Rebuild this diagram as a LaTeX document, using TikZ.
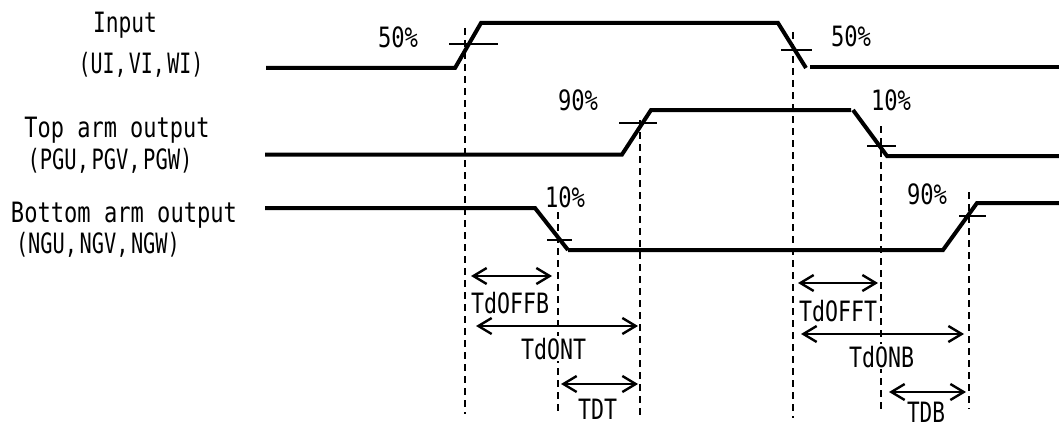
\documentclass[tikz,border=0pt]{standalone}
\usepackage{fontspec}
\usepackage{graphicx}
\usetikzlibrary{arrows.meta}
\newfontfamily\gothicface{DejaVu Sans Mono}
\newcommand{\fitlab}[2]{\resizebox{#1\dimexpr0.75pt\relax}{\height}{\gothicface\fontsize{21}{22}\selectfont #2}}
\newcommand{\fitlist}[2]{\resizebox{#1\dimexpr0.75pt\relax}{\height}{\gothicface\fontsize{21}{22}\selectfont\spaceskip=0.12em\relax #2}}
\tikzset{
  signal/.style={line width=3pt,line join=miter},
  tick/.style={line width=1.1pt},
  guide/.style={line width=1.3pt,dash pattern=on 5pt off 4pt},
  span/.style={line width=1.8pt,{Straight Barb[length=10pt,width=12pt,line width=1.8pt]}-{Straight Barb[length=10pt,width=12pt,line width=1.8pt]}},
  lab/.style={inner sep=0pt,outer sep=0pt,anchor=base,text=black},
  cutlab/.style={lab,fill=white,inner ysep=1pt},
}
\begin{document}
\begin{tikzpicture}[x=0.75pt,y=-0.75pt]
\useasboundingbox (0,0) rectangle (1059,428);
% signals
\coordinate (a0) at (266,68); \coordinate (a1) at (455,68); \coordinate (a2) at (481,23);
\coordinate (a3) at (778,23); \coordinate (a4) at (806,68); \coordinate (a5) at (810,67); \coordinate (a6) at (1059,67);
\draw[signal] (a0) -- (a1) -- (a2) -- (a3) -- (a4);
\draw[signal] (a5) -- (a6);
\coordinate (b0) at (265,154.5); \coordinate (b1) at (622,154.5); \coordinate (b2) at (651,110);
\coordinate (b3) at (851,110); \coordinate (b4) at (853,110); \coordinate (b5) at (887,156); \coordinate (b6) at (1059,156);
\draw[signal] (b0) -- (b1) -- (b2) -- (b3);
\draw[signal] (b4) -- (b5) -- (b6);
\coordinate (c0) at (265,208); \coordinate (c1) at (535,208); \coordinate (c2) at (568,250);
\coordinate (c3) at (943,250); \coordinate (c4) at (977,203); \coordinate (c5) at (1059,203);
\draw[signal] (c0) -- (c1) -- (c2);
\draw[signal] (c2) -- (c3) -- (c4) -- (c5);
% level ticks
\coordinate (t1a) at (449,44); \coordinate (t1b) at (498,44); \draw[tick] (t1a) -- (t1b);
\coordinate (t2a) at (781,50); \coordinate (t2b) at (812,50); \draw[tick] (t2a) -- (t2b);
\coordinate (t3a) at (619,123); \coordinate (t3b) at (657,123); \draw[tick] (t3a) -- (t3b);
\coordinate (t4a) at (867,146); \coordinate (t4b) at (896,146); \draw[tick] (t4a) -- (t4b);
\coordinate (t5a) at (547,240); \coordinate (t5b) at (572,240); \draw[tick] (t5a) -- (t5b);
\coordinate (t6a) at (959,216); \coordinate (t6b) at (986,216); \draw[tick] (t6a) -- (t6b);
% guides
\coordinate (g1a) at (465,28);  \coordinate (g1b) at (465,414); \draw[guide] (g1a) -- (g1b);
\coordinate (g2a) at (558,212); \coordinate (g2b) at (558,414); \draw[guide] (g2a) -- (g2b);
\coordinate (g3a) at (640,120); \coordinate (g3b) at (640,416); \draw[guide] (g3a) -- (g3b);
\coordinate (g4a) at (793,32);  \coordinate (g4b) at (793,418); \draw[guide] (g4a) -- (g4b);
\coordinate (g5a) at (881,126); \coordinate (g5b) at (881,413); \draw[guide] (g5a) -- (g5b);
\coordinate (g6a) at (969,192); \coordinate (g6b) at (969,409); \draw[guide] (g6a) -- (g6b);
% spans
\coordinate (s1a) at (471,276); \coordinate (s1b) at (552,276); \draw[span] (s1a) -- (s1b);
\coordinate (s2a) at (476,326); \coordinate (s2b) at (638,326); \draw[span] (s2a) -- (s2b);
\coordinate (s3a) at (561,384); \coordinate (s3b) at (638,384); \draw[span] (s3a) -- (s3b);
\coordinate (s4a) at (798,283); \coordinate (s4b) at (878,283); \draw[span] (s4a) -- (s4b);
\coordinate (s5a) at (801,334); \coordinate (s5b) at (964,334); \draw[span] (s5a) -- (s5b);
\coordinate (s6a) at (889,392); \coordinate (s6b) at (966,392); \draw[span] (s6a) -- (s6b);
% signal names
\node[lab] (n1) at (125,33) {\fitlab{64}{Input}};
\node[lab] (n2) at (141,74) {\fitlist{125}{(UI, VI, WI)}};
\node[lab] (n3) at (117,137) {\fitlab{185}{Top arm output}};
\node[lab] (n4) at (110,169) {\fitlist{165}{(PGU, PGV, PGW)}};
\node[lab] (n5) at (124,222) {\fitlab{226}{Bottom arm output}};
\node[lab] (n6) at (98,253) {\fitlist{164}{(NGU, NGV, NGW)}};
% percentages
\node[lab] (p1) at (398,48) {\fitlab{40}{50\%}};
\node[lab] (p2) at (851,46) {\fitlab{40}{50\%}};
\node[lab] (p3) at (578,110) {\fitlab{40}{90\%}};
\node[lab] (p4) at (891,110) {\fitlab{40}{10\%}};
\node[lab] (p5) at (565,207) {\fitlab{40}{10\%}};
\node[lab] (p6) at (927,204) {\fitlab{40}{90\%}};
% timing names
\node[lab] (d1) at (510,313) {\fitlab{78}{TdOFFB}};
\node[cutlab] (d2) at (553.5,359) {\fitlab{65}{TdONT}};
\node[lab] (d3) at (597.5,419) {\fitlab{39}{TDT}};
\node[lab] (d4) at (838,321) {\fitlab{78}{TdOFFT}};
\node[cutlab] (d5) at (881.5,367) {\fitlab{65}{TdONB}};
\node[lab] (d6) at (926,422) {\fitlab{38}{TDB}};
\end{tikzpicture}
\end{document}
